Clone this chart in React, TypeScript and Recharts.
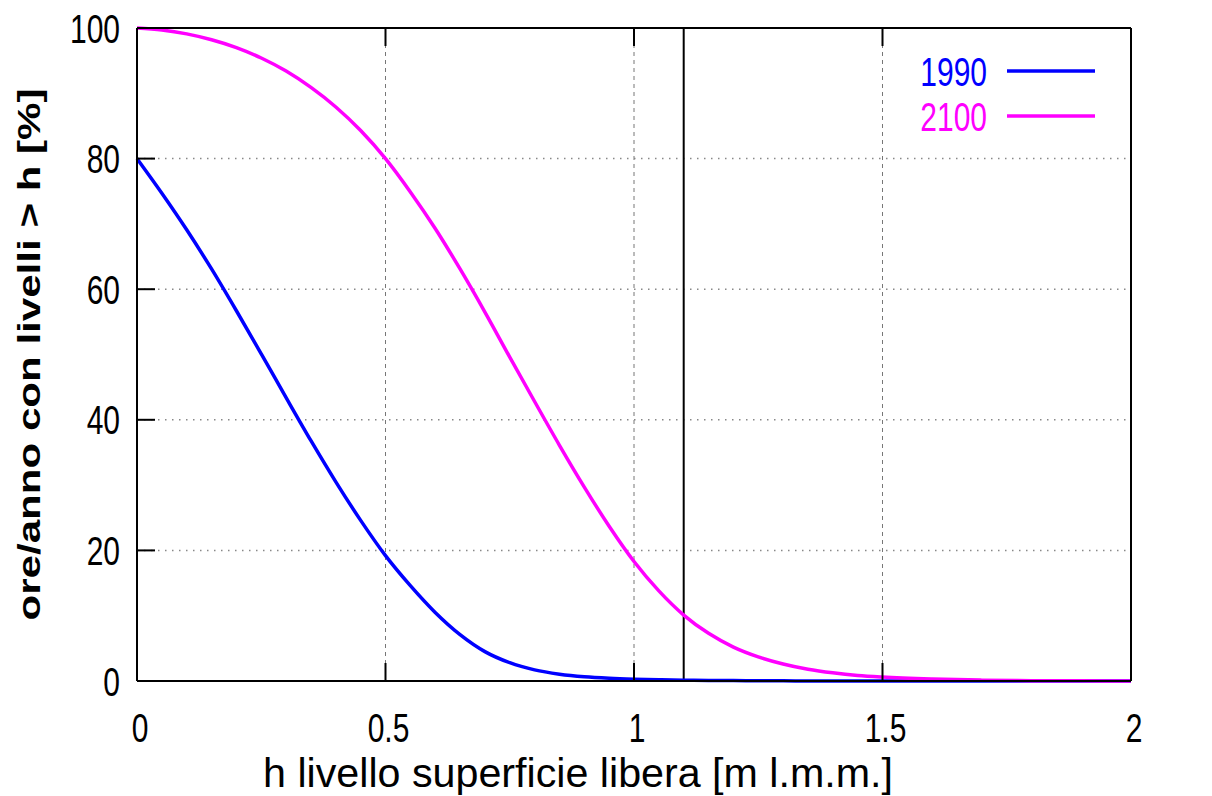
import { CartesianGrid, Label, Legend, Line, LineChart, ReferenceLine, XAxis, YAxis } from 'recharts'

// h [m l.m.m.]
const levels = [
  0, 0.05, 0.1, 0.15, 0.2, 0.25, 0.3, 0.35, 0.4, 0.45, 0.5, 0.55, 0.6, 0.65, 0.7, 0.75, 0.8, 0.85,
  0.9, 0.95, 1.0, 1.05, 1.1, 1.15, 1.2, 1.25, 1.3, 1.35, 1.4, 1.45, 1.5, 1.6, 1.7, 1.8, 1.9, 2.0,
]
const hours1990 = [
  80, 74.7, 69.1, 63.1, 56.7, 50.1, 43.4, 36.8, 30.5, 24.6, 19.2, 14.6, 10.5, 7.1, 4.5, 2.8, 1.7, 1.05,
  0.65, 0.42, 0.28, 0.19, 0.13, 0.09, 0.06, 0.04, 0.02, 0.01, 0, 0, 0, 0, 0, 0, 0, 0,
]
const hours2100 = [
  100, 99.7, 99.1, 98.2, 97.0, 95.4, 93.4, 90.9, 87.9, 84.3, 80, 74.9, 69.3, 63.1, 56.5, 49.6, 42.8, 36.1,
  29.7, 23.7, 18.3, 13.8, 10.1, 7.3, 5.2, 3.7, 2.6, 1.8, 1.25, 0.85, 0.6, 0.3, 0.13, 0.05, 0.02, 0,
]
const xTicks = [0, 0.5, 1, 1.5, 2]
const yTicks = [0, 20, 40, 60, 80, 100]
const markerLevel = 1.1

const data = levels.map((h, i) => ({ h, y1990: hours1990[i], y2100: hours2100[i] }))

const FONT = '"Liberation Sans", Arial, Helvetica, sans-serif'
const SQUEEZE = 0.75
const TICK_LEN = 18

type Side = 'left' | 'right' | 'bottom' | 'top'

// inward tick mark + condensed label, drawn from the axis position recharts hands us
function makeTick(side: Side) {
  return (props: any) => {
    const { x, y, payload } = props
    let d = ''
    let tx = x
    let ty = y
    let anchor: 'start' | 'middle' | 'end' = 'middle'
    if (side === 'left') {
      d = `M${x},${y}h${TICK_LEN}`
      tx = x - 17
      ty = y + 14.5
      anchor = 'end'
    } else if (side === 'right') {
      d = `M${x},${y}h${-TICK_LEN}`
      tx = x + 24
      ty = y + 14.5
      anchor = 'start'
    } else if (side === 'bottom') {
      d = `M${x},${y}v${-TICK_LEN}`
      tx = x + 3
      ty = y + 61
    } else {
      d = `M${x},${y}v${TICK_LEN}`
    }
    return (
      <g>
        <path d={d} stroke="#000" strokeWidth={2} fill="none" />
        {side !== 'top' && (
          <text
            x={0}
            y={0}
            transform={`translate(${tx},${ty}) scale(${SQUEEZE},1)`}
            textAnchor={anchor}
            fontFamily={FONT}
            fontSize={40}
            fill="#000"
          >
            {String(payload.value)}
          </text>
        )}
      </g>
    )
  }
}

function YTitle(props: any) {
  const vb = props.viewBox || { x: 77, y: 28, width: 60, height: 653 }
  const cx = vb.x - 37
  const cy = vb.y + vb.height / 2
  return (
    <text
      x={0}
      y={0}
      transform={`translate(${cx},${cy}) rotate(-90)`}
      textAnchor="middle"
      fontFamily={FONT}
      fontWeight="bold"
      fontSize={32}
      textLength={532}
      lengthAdjust="spacingAndGlyphs"
      fill="#000"
    >
      ore/anno con livelli &gt; h [%]
    </text>
  )
}

function XTitle(props: any) {
  const vb = props.viewBox || { x: 137, y: 681, width: 994, height: 60 }
  return (
    <text
      x={vb.x + vb.width / 2 - 56}
      y={vb.y + 106}
      textAnchor="middle"
      fontFamily={FONT}
      fontSize={41}
      textLength={630}
      lengthAdjust="spacingAndGlyphs"
      fill="#000"
    >
      h livello superficie libera [m l.m.m.]
    </text>
  )
}

function LegendBox(props: any) {
  const items = props.payload || []
  return (
    <svg width={220} height={120} style={{ position: 'absolute', left: 0, top: 0, overflow: 'visible' }}>
      {items.map((item: any, i: number) => {
        const rowY = 41 + i * 45
        return (
          <g key={item.value}>
            <text
              x={0}
              y={0}
              transform={`translate(87,${rowY + 15}) scale(${SQUEEZE},1)`}
              textAnchor="end"
              fontFamily={FONT}
              fontSize={40}
              fill={item.color}
            >
              {item.value}
            </text>
            <line x1={107} x2={195} y1={rowY} y2={rowY} stroke={item.color} strokeWidth={3.5} />
          </g>
        )
      })}
    </svg>
  )
}

const axisLine = { stroke: '#000', strokeWidth: 2 }

export default function App() {
  return (
    <div style={{ position: 'absolute', left: 0, top: 0, width: 1212, height: 796, background: '#fff' }}>
      <LineChart width={1212} height={796} data={data} margin={{ top: 0, right: 21, bottom: 55, left: 77 }}>
        <CartesianGrid horizontal={false} stroke="#777" strokeWidth={1} strokeDasharray="4 4" />
        <CartesianGrid vertical={false} stroke="#888" strokeWidth={1.5} strokeDasharray="1.5 5.5" />
        <XAxis
          dataKey="h"
          type="number"
          domain={[0, 2]}
          ticks={xTicks}
          height={60}
          axisLine={axisLine}
          tickLine={false}
          tickSize={0}
          tickMargin={0}
          tick={makeTick('bottom')}
          interval={0}
        >
          <Label content={XTitle} />
        </XAxis>
        <XAxis
          xAxisId="top"
          orientation="top"
          dataKey="h"
          type="number"
          domain={[0, 2]}
          ticks={xTicks}
          height={28}
          axisLine={axisLine}
          tickLine={false}
          tickSize={0}
          tickMargin={0}
          tick={makeTick('top')}
          interval={0}
        />
        <YAxis
          type="number"
          domain={[0, 100]}
          ticks={yTicks}
          width={60}
          axisLine={axisLine}
          tickLine={false}
          tickSize={0}
          tickMargin={0}
          tick={makeTick('left')}
          interval={0}
        >
          <Label content={YTitle} />
        </YAxis>
        <YAxis
          yAxisId="right"
          orientation="right"
          type="number"
          domain={[0, 100]}
          ticks={yTicks}
          width={60}
          axisLine={axisLine}
          tickLine={false}
          tickSize={0}
          tickMargin={0}
          tick={makeTick('right')}
          interval={0}
        />
        <ReferenceLine x={markerLevel} stroke="#000" strokeWidth={2} />
        <Line
          type="monotone"
          dataKey="y1990"
          name="1990"
          stroke="#0000ff"
          strokeWidth={3.5}
          dot={false}
          isAnimationActive={false}
        />
        <Line
          type="monotone"
          dataKey="y2100"
          name="2100"
          stroke="#ff00ff"
          strokeWidth={3.5}
          dot={false}
          isAnimationActive={false}
        />
        <Legend
          content={LegendBox}
          wrapperStyle={{ position: 'absolute', left: 900, top: 30, width: 0, height: 0 }}
        />
      </LineChart>
    </div>
  )
}
